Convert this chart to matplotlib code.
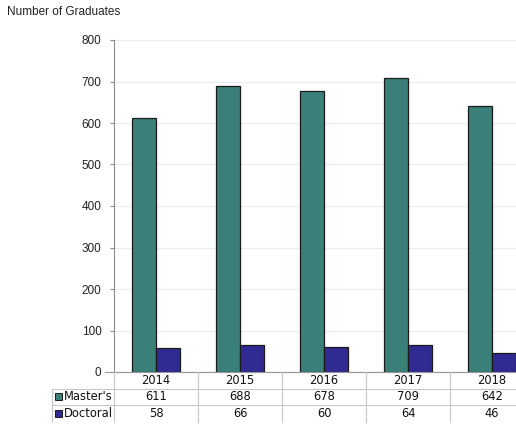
import matplotlib
matplotlib.use("Agg")
import matplotlib.pyplot as plt
from matplotlib.patches import Rectangle
from matplotlib.lines import Line2D

years = ["2014", "2015", "2016", "2017", "2018"]
masters = [611, 688, 678, 709, 642]
doctoral = [58, 66, 60, 64, 46]
series_names = ["Master's", "Doctoral"]
yticks = [0, 100, 200, 300, 400, 500, 600, 700, 800]

c_m = "#3A8079"
c_d = "#2F2B93"

W, H = 516, 424
fig = plt.figure(figsize=(W / 100, H / 100), dpi=100)

def fx(px):
    return px / W

def fy(py):
    return 1 - py / H

ax_left, ax_right, ax_top, ax_bot = 114, 534, 40, 372
ax = fig.add_axes([fx(ax_left), fy(ax_bot), fx(ax_right - ax_left), (ax_bot - ax_top) / H])

n = len(years)
x = list(range(n))
bw = 0.288
ax.bar([i - bw / 2 for i in x], masters, width=bw, color=c_m, edgecolor="#1a1a1a", linewidth=0.9, zorder=3)
ax.bar([i + bw / 2 for i in x], doctoral, width=bw, color=c_d, edgecolor="#1a1a1a", linewidth=0.9, zorder=3)
ax.set_xlim(-0.5, n - 0.5)
ax.set_ylim(0, 800)
ax.set_yticks(yticks)
ax.set_yticklabels([str(t) for t in yticks], fontfamily="Liberation Sans", fontsize=8.5, color="#222222")
ax.set_xticks([])
ax.grid(axis="y", color="#ececec", linewidth=0.8, zorder=0)
for s in ["top", "right"]:
    ax.spines[s].set_visible(False)
ax.spines["left"].set_color("#8a8a8a")
ax.spines["left"].set_linewidth(0.8)
ax.spines["bottom"].set_color("#9a9a9a")
ax.spines["bottom"].set_linewidth(0.8)
ax.tick_params(axis="y", length=3, width=0.8, color="#8a8a8a", pad=6)

fig.text(fx(7), fy(12), "Number of Graduates", fontfamily="Liberation Sans", fontsize=8.5,
         ha="left", va="center", color="#222222")

# data table
row_y = [372, 388.5, 405, 422]
lc = "#c8c8c8"
tab_left = 52
fig.add_artist(Line2D([fx(105), fx(ax_right)], [fy(row_y[0]), fy(row_y[0])], color="#9a9a9a", lw=0.8))
for yy in row_y[1:3]:
    fig.add_artist(Line2D([fx(tab_left), fx(ax_right)], [fy(yy), fy(yy)], color=lc, lw=0.8))
fig.add_artist(Line2D([fx(tab_left), fx(tab_left)], [fy(row_y[1]), fy(row_y[3])], color=lc, lw=0.8))
fig.add_artist(Line2D([fx(ax_left), fx(ax_left)], [fy(row_y[0]), fy(row_y[3])], color=lc, lw=0.8))
cw = (ax_right - ax_left) / n
for i in range(1, n):
    xx = ax_left + i * cw
    fig.add_artist(Line2D([fx(xx), fx(xx)], [fy(row_y[0]), fy(row_y[3])], color=lc, lw=0.8))

tfs = 8.3
for i, yr in enumerate(years):
    cx = ax_left + (i + 0.5) * cw
    fig.text(fx(cx), fy((row_y[0] + row_y[1]) / 2), yr, ha="center", va="center", fontsize=tfs, color="#111111")
    fig.text(fx(cx), fy((row_y[1] + row_y[2]) / 2), str(masters[i]), ha="center", va="center", fontsize=tfs, color="#111111")
    fig.text(fx(cx), fy((row_y[2] + row_y[3]) / 2), str(doctoral[i]), ha="center", va="center", fontsize=tfs, color="#111111")

for k, (name, col) in enumerate(zip(series_names, [c_m, c_d])):
    yc = (row_y[k + 1] + row_y[k + 2]) / 2
    sq = 7
    fig.add_artist(Rectangle((fx(55), fy(yc + sq / 2)), sq / W, sq / H, facecolor=col,
                             edgecolor="#1a1a1a", lw=0.7, transform=fig.transFigure))
    fig.text(fx(64), fy(yc), name, ha="left", va="center", fontsize=tfs, color="#111111")

fig.savefig("out.png", dpi=100)
